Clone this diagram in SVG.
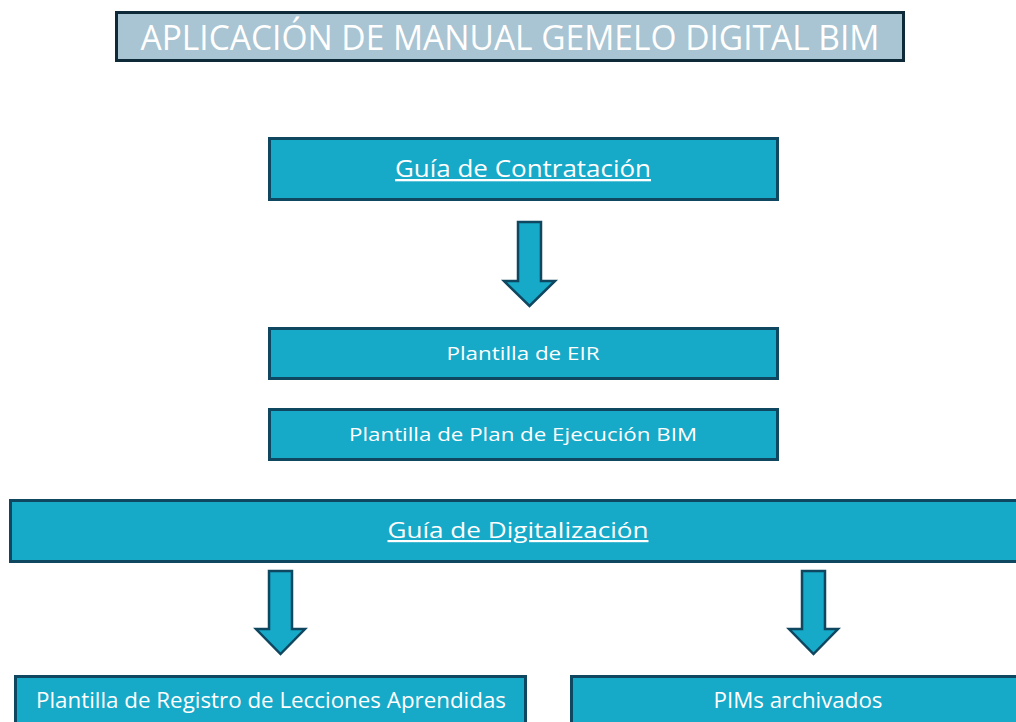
<svg xmlns="http://www.w3.org/2000/svg" width="1016" height="722" viewBox="0 0 1016 722">
<style>
.box{fill:#16a9c8;stroke:#0f4660;stroke-width:3}
.arr{fill:#16a9c8;stroke:#0f4660;stroke-width:2.5;stroke-linejoin:miter}
.t{font-family:"Open Sans","Noto Sans",sans-serif;fill:#ffffff;text-anchor:middle}
.u{text-decoration:underline}
</style>
<rect width="1016" height="722" fill="#ffffff"/>
<g id="title">
<rect x="116.5" y="12.5" width="787" height="48" fill="#a9c4d2" stroke="#0e2a38" stroke-width="3"/>
<text class="t" x="510" y="49.5" font-size="35" textLength="739" lengthAdjust="spacingAndGlyphs">APLICACIÓN DE MANUAL GEMELO DIGITAL BIM</text>
</g>
<g id="guia-contratacion">
<rect class="box" x="269.5" y="138.5" width="508" height="61"/>
<text class="t u" x="523" y="177" font-size="23" textLength="256" lengthAdjust="spacingAndGlyphs">Guía de Contratación</text>
</g>
<g id="plantilla-eir">
<rect class="box" x="269.5" y="328.5" width="508" height="50"/>
<text class="t" x="523" y="360" font-size="18.5" textLength="153" lengthAdjust="spacingAndGlyphs">Plantilla de EIR</text>
</g>
<g id="plantilla-plan">
<rect class="box" x="269.5" y="409.5" width="508" height="50"/>
<text class="t" x="523" y="441" font-size="18.5" textLength="348" lengthAdjust="spacingAndGlyphs">Plantilla de Plan de Ejecución BIM</text>
</g>
<g id="guia-digitalizacion">
<rect class="box" x="10.5" y="500.5" width="1010" height="61"/>
<text class="t u" x="518" y="538" font-size="22" textLength="261" lengthAdjust="spacingAndGlyphs">Guía de Digitalización</text>
</g>
<g id="plantilla-lecciones">
<rect class="box" x="15.5" y="676.5" width="510" height="50"/>
<text class="t" x="271" y="708" font-size="21" textLength="470" lengthAdjust="spacingAndGlyphs">Plantilla de Registro de Lecciones Aprendidas</text>
</g>
<g id="pims">
<rect class="box" x="571.5" y="676.5" width="450" height="50"/>
<text class="t" x="798" y="708" font-size="21" textLength="169" lengthAdjust="spacingAndGlyphs">PIMs archivados</text>
</g>
<g id="connectors">
<path class="arr" d="M518,222 H541 V281 H555 L529.5,306 L504,281 H518 Z"/>
<path class="arr" d="M269,571 H292 V629 H305 L280.5,654 L256,629 H269 Z"/>
<path class="arr" d="M802,571 H825 V629 H838 L813.5,654 L789,629 H802 Z"/>
</g>
</svg>
